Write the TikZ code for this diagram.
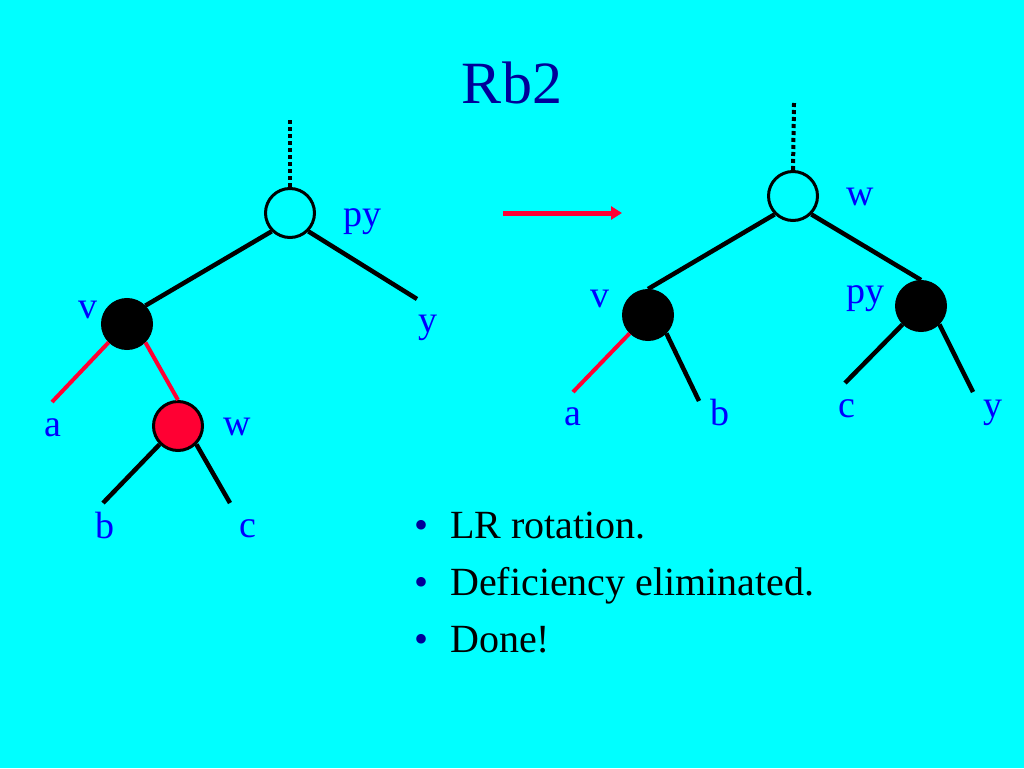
\documentclass[tikz,border=0pt]{standalone}
\usepackage{fontspec}
\setmainfont{Liberation Serif}
\usetikzlibrary{arrows.meta}
\definecolor{bg}{RGB}{0,255,255}
\definecolor{lbl}{RGB}{0,0,255}
\definecolor{navy}{RGB}{0,0,153}
\definecolor{rbred}{RGB}{255,0,51}
\begin{document}
\begin{tikzpicture}[x=1pt,y=-1pt,
  lab/.style={text=lbl, font=\fontsize{38}{40}\selectfont, anchor=base, inner sep=0pt},
  bul/.style={font=\fontsize{40}{42}\selectfont, anchor=base west, inner sep=0pt, text=black},
  bdot/.style={font=\fontsize{40}{42}\selectfont, anchor=base, inner sep=0pt, text=navy},
  nd/.style={circle, draw=black, line width=3pt, minimum size=49pt, inner sep=0pt},
  tedge/.style={line width=4.5pt, draw=black},
  redge/.style={line width=4pt, draw=rbred},
  dotline/.style={line width=4pt, draw=black, dash pattern=on 4pt off 3pt}]
\fill[bg] (0,0) rectangle (1024,768);
\useasboundingbox (0,0) rectangle (1024,768);

% title
\node[text=navy, font=\fontsize{60}{64}\selectfont, anchor=base, inner sep=0pt] (title) at (512,103) {Rb2};

% ---------- left tree ----------
\node[nd, fill=bg] (py) at (290,213) {};
\node[nd, fill=black] (v) at (127,324) {};
\node[nd, fill=rbred] (w) at (178,426) {};
\coordinate (ltop) at (290,120);
\coordinate (lyend) at (417,299);
\coordinate (laend) at (52,402);
\coordinate (lbend) at (103,503);
\coordinate (lcend) at (230,503);

\draw[dotline] (ltop) -- (py.north);
\draw[tedge] (py.225) -- (v.45);
\draw[tedge] (py.315) -- (lyend);
\draw[redge] (v.225) -- (laend);
\draw[redge] (v.315) -- (w.north);
\draw[tedge] (w.225) -- (lbend);
\draw[tedge] (w.315) -- (lcend);

\node[lab] (lpy) at (362,226) {py};
\node[lab] (lv) at (88,318) {v};
\node[lab] (ly) at (428,332) {y};
\node[lab] (la) at (53,436) {a};
\node[lab] (lw) at (237,435) {w};
\node[lab] (lb) at (105,538) {b};
\node[lab] (lc) at (248,537) {c};

% ---------- arrow ----------
\coordinate (arrs) at (503,213);
\coordinate (arre) at (622,213);
\draw[rbred, line width=5pt, -{Triangle[length=11pt,width=13pt]}] (arrs) -- (arre);

% ---------- right tree ----------
\node[nd, fill=bg] (W) at (793,196) {};
\node[nd, fill=black] (V) at (648,315) {};
\node[nd, fill=black] (PY) at (921,306) {};
\coordinate (rtop) at (794,103);
\coordinate (raend) at (573,392);
\coordinate (rbend) at (699,401);
\coordinate (rcend) at (845,383);
\coordinate (ryend) at (973,392);

\draw[dotline] (rtop) -- (W.north);
\draw[tedge] (W.225) -- (V.north);
\draw[tedge] (W.315) -- (PY.north);
\draw[redge] (V.225) -- (raend);
\draw[tedge] (V.315) -- (rbend);
\draw[tedge] (PY.225) -- (rcend);
\draw[tedge] (PY.315) -- (ryend);

\node[lab] (rw) at (860,205) {w};
\node[lab] (rv) at (600,307) {v};
\node[lab] (rpy) at (865,303) {py};
\node[lab] (ra) at (573,425) {a};
\node[lab] (rb) at (720,425) {b};
\node[lab] (rc) at (847,417) {c};
\node[lab] (ry) at (993,417) {y};

% ---------- bullets ----------
\node[bdot] (d1) at (421,538) {•};
\node[bdot] (d2) at (421,595) {•};
\node[bdot] (d3) at (421,652) {•};
\node[bul] (t1) at (450,538) {LR rotation.};
\node[bul] (t2) at (450,595) {Deficiency eliminated.};
\node[bul] (t3) at (450,652) {Done!};
\end{tikzpicture}
\end{document}
